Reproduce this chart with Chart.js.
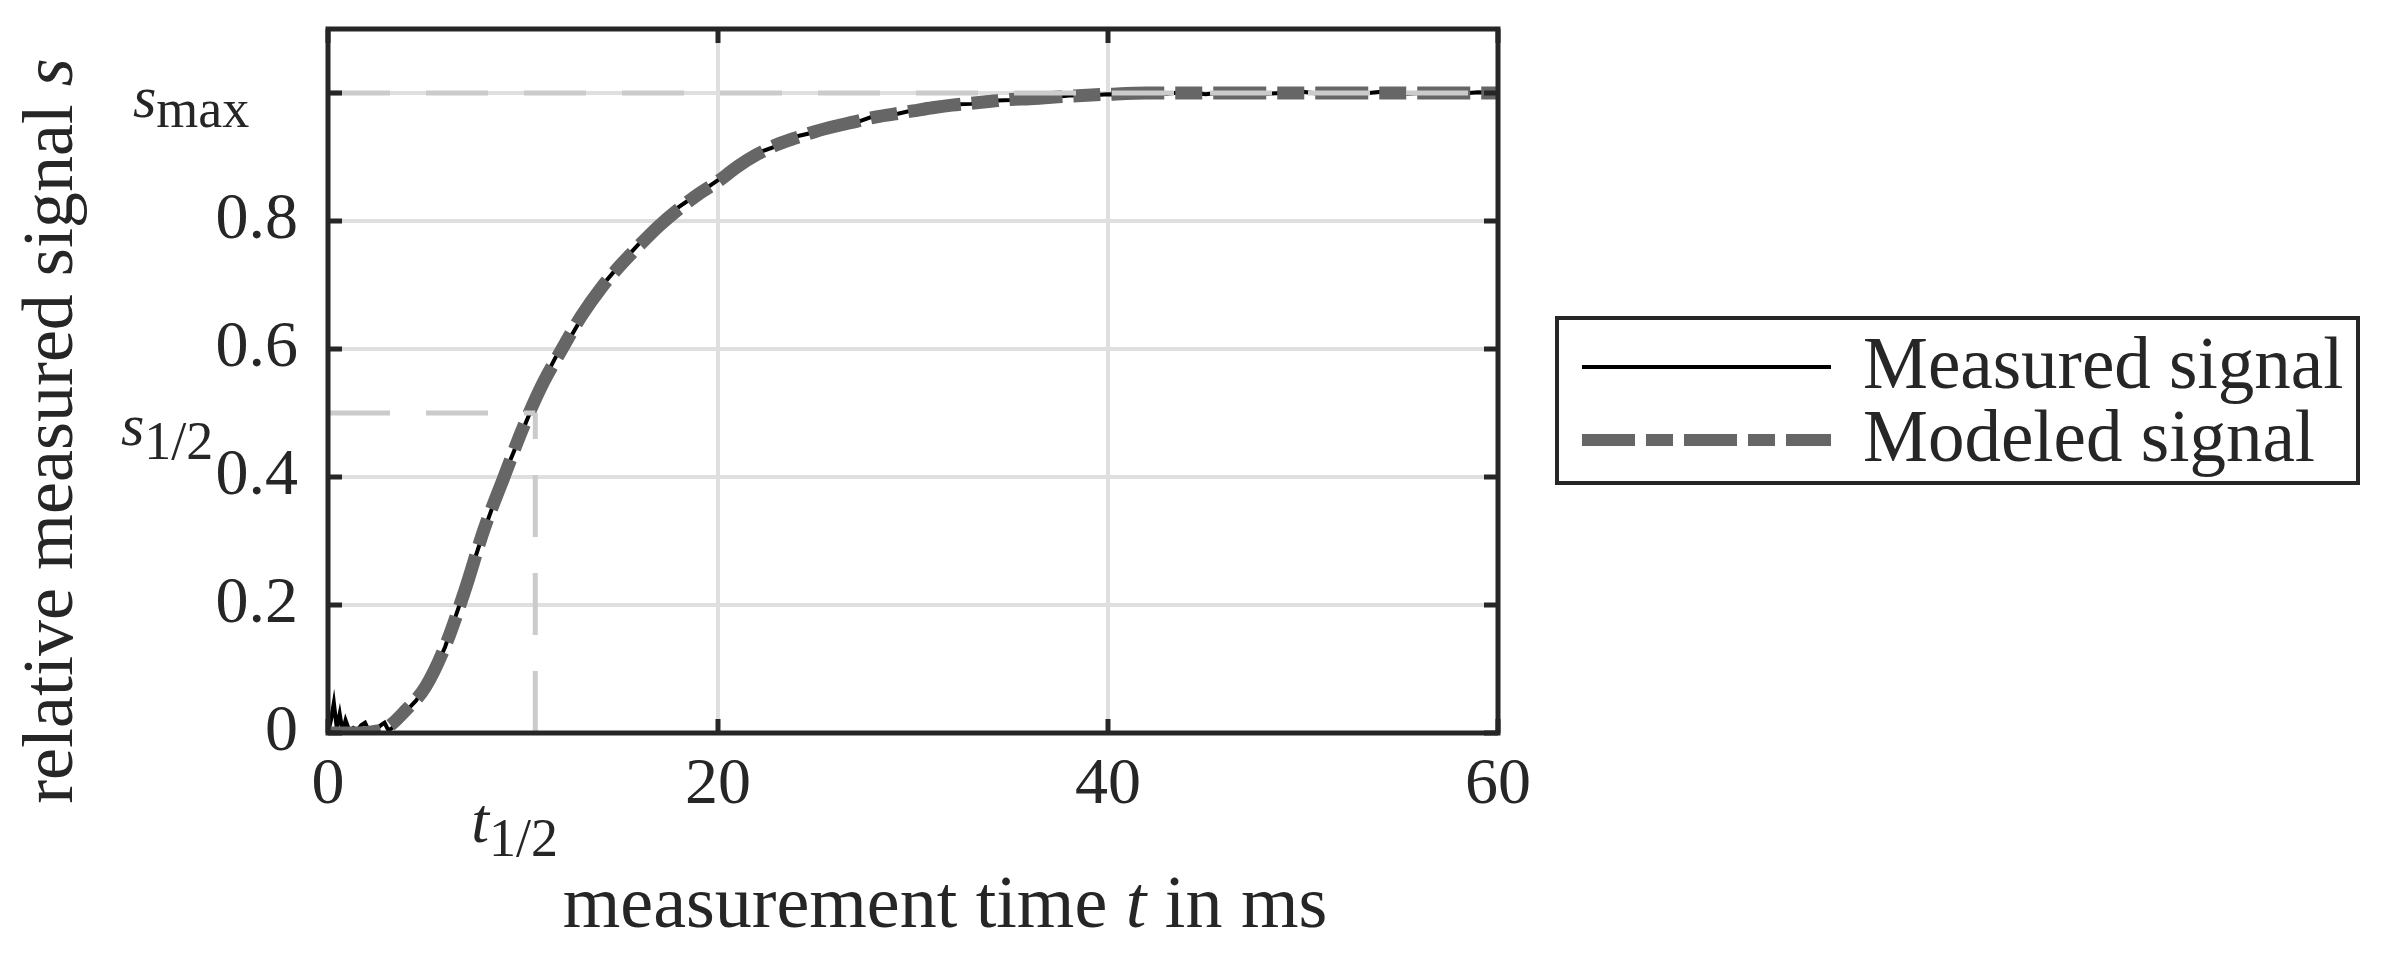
<!DOCTYPE html>
<html>
<head>
<meta charset="utf-8">
<title>relative measured signal</title>
<script src="https://cdn.jsdelivr.net/npm/chart.js@4.4.1/dist/chart.umd.min.js"></script>
<style>
    html, body { margin: 0; padding: 0; background: #fff; }
    #wrap { position: relative; width: 2393px; height: 954px; }
</style>
</head>
<body>
<div id="wrap"><canvas id="myChart"></canvas></div>
<script>
// 读图得到的数据 (时间 ms, 相对信号)
const modelTime   = [0, 1, 2, 3, 4, 5, 6, 7, 8, 9, 10, 11, 12, 13, 14, 15, 16, 17, 18, 19, 20,
                     21, 22, 23, 24, 25, 26, 27, 28, 29, 30, 31, 32, 33, 34, 35, 36, 38, 40, 42, 45, 50, 55, 60];
const modelSignal = [0, 0, 0.001, 0.008, 0.036, 0.072, 0.135, 0.221, 0.318, 0.398, 0.477, 0.545, 0.600, 0.652, 0.695,
                     0.731, 0.763, 0.793, 0.819, 0.842, 0.862, 0.885, 0.904, 0.919, 0.930, 0.940, 0.948, 0.955, 0.962,
                     0.967, 0.972, 0.977, 0.981, 0.984, 0.987, 0.990, 0.991, 0.995, 0.998, 1.0, 1.0, 1.0, 1.0, 1.0];

const measuredTime   = [0, 0.15, 0.3, 0.45, 0.6, 0.75, 0.9, 1.1, 1.3, 1.5, 1.7, 1.9, 2.1, 2.3, 2.5, 2.7, 2.9, 3.1, 3.3,
                        3.6, 4, 4.5, 5, 5.5, 6, 7, 8, 9, 10, 11, 12, 12.5, 13, 14, 15, 16, 17, 18, 19, 20,
                        21, 22, 23, 24, 25, 26, 27, 28, 29, 30, 31, 32, 33, 34, 35, 36, 37, 38, 39, 40,
                        41, 42, 43, 44, 45, 46, 47, 48, 49, 50, 51, 52, 53, 54, 55, 56, 57, 58, 59, 60];
const measuredSignal = [0, 0.02, 0.047, 0.008, 0.03, 0.002, 0.02, 0.003, 0.008, 0.004, 0.012, 0.016, 0.003, 0.002,
                        0.006, 0.012, 0.016, 0.004, 0.008, 0.02, 0.034, 0.05, 0.073, 0.1, 0.134, 0.223, 0.316, 0.401,
                        0.474, 0.548, 0.606, 0.622, 0.648, 0.697, 0.733, 0.766, 0.792, 0.822, 0.843, 0.864,
                        0.884, 0.906, 0.917, 0.932, 0.939, 0.950, 0.953, 0.964, 0.966, 0.973, 0.976, 0.982, 0.983,
                        0.988, 0.989, 0.992, 0.993, 0.996, 0.996, 0.998, 0.997, 1.001, 0.999, 1.002, 0.998, 1.001,
                        1.003, 0.999, 1.0, 1.002, 0.998, 1.001, 0.999, 1.002, 0.998, 1.0, 1.002, 0.999, 1.001, 1.0];

const tHalf = 10.63;   // t_1/2
const sHalf = 0.5;     // s_1/2
const sMax = 1;        // s_max

const xTicks = [0, 20, 40, 60];
const yTicks = [0, 0.2, 0.4, 0.6, 0.8, 1];

const FONT = '"Liberation Serif", "DejaVu Serif", serif';
const TEXT = '#262626';
const GRID = '#dfdfdf';
const REF = '#cbcbcb';

function toPoints(xs, ys) {
    return xs.map((x, i) => ({ x: x, y: ys[i] }));
}

// 按片段绘制混合字体文本
function drawRuns(ctx, runs, x, y, align) {
    let total = 0;
    runs.forEach(r => { ctx.font = r.font; total += ctx.measureText(r.text).width; });
    let cx = align === 'center' ? x - total / 2 : x;
    runs.forEach(r => {
        ctx.font = r.font;
        ctx.fillText(r.text, cx, y + (r.dy || 0));
        cx += ctx.measureText(r.text).width;
    });
}

const decorPlugin = {
    id: 'decor',
    afterDraw(chart) {
        const ctx = chart.ctx;
        const area = chart.chartArea;
        const xs = chart.scales.x;
        const ys = chart.scales.y;
        ctx.save();

        // 坐标框和内向刻度
        ctx.strokeStyle = TEXT;
        ctx.lineWidth = 5;
        ctx.strokeRect(area.left, area.top, area.right - area.left, area.bottom - area.top);
        ctx.beginPath();
        xs.ticks.forEach(t => {
            const px = xs.getPixelForValue(t.value);
            ctx.moveTo(px, area.bottom); ctx.lineTo(px, area.bottom - 14);
            ctx.moveTo(px, area.top); ctx.lineTo(px, area.top + 14);
        });
        ys.ticks.forEach(t => {
            const py = ys.getPixelForValue(t.value);
            ctx.moveTo(area.left, py); ctx.lineTo(area.left + 14, py);
            ctx.moveTo(area.right, py); ctx.lineTo(area.right - 14, py);
        });
        ctx.stroke();

        ctx.fillStyle = TEXT;
        ctx.textBaseline = 'alphabetic';
        ctx.textAlign = 'left';

        // s_max, s_1/2, t_1/2
        const yMax = ys.getPixelForValue(sMax);
        drawRuns(ctx, [
            { text: 's', font: 'italic 60px ' + FONT },
            { text: 'max', font: '54px ' + FONT, dy: 10 }
        ], 133, yMax + 24, 'left');
        const yHalf = ys.getPixelForValue(sHalf);
        drawRuns(ctx, [
            { text: 's', font: 'italic 60px ' + FONT },
            { text: '1/2', font: '54px ' + FONT, dy: 14 }
        ], 121, yHalf + 32, 'left');
        const xHalf = xs.getPixelForValue(tHalf);
        drawRuns(ctx, [
            { text: 't', font: 'italic 64px ' + FONT },
            { text: '1/2', font: '54px ' + FONT, dy: 14 }
        ], xHalf - 64, area.bottom + 109, 'left');

        // 坐标轴标题
        drawRuns(ctx, [
            { text: 'measurement time ', font: '74px ' + FONT },
            { text: 't', font: 'italic 74px ' + FONT },
            { text: ' in ms', font: '74px ' + FONT }
        ], 945, 927, 'center');
        ctx.save();
        ctx.translate(72, 431);
        ctx.rotate(-Math.PI / 2);
        drawRuns(ctx, [
            { text: 'relative measured signal ', font: '72px ' + FONT },
            { text: 's', font: 'italic 72px ' + FONT }
        ], 0, 0, 'center');
        ctx.restore();

        // 图例
        const box = { left: 1557, top: 318, right: 2358, bottom: 483 };
        ctx.fillStyle = '#fff';
        ctx.fillRect(box.left, box.top, box.right - box.left, box.bottom - box.top);
        ctx.strokeStyle = TEXT;
        ctx.lineWidth = 4;
        ctx.strokeRect(box.left, box.top, box.right - box.left, box.bottom - box.top);
        const items = chart.data.datasets.filter(d => d.inLegend);
        items.sort((a, b) => a.legendRank - b.legendRank);
        items.forEach((d, i) => {
            const cy = 367 + i * 73;
            ctx.save();
            ctx.strokeStyle = d.borderColor;
            ctx.lineWidth = d.legendWidth || d.borderWidth;
            ctx.setLineDash(d.borderDash || []);
            ctx.beginPath();
            ctx.moveTo(1582, cy);
            ctx.lineTo(1831, cy);
            ctx.stroke();
            ctx.restore();
            ctx.fillStyle = TEXT;
            ctx.font = '73px ' + FONT;
            ctx.fillText(d.label, 1863, cy + 21);
        });

        ctx.restore();
    }
};

const ctx = document.getElementById('myChart').getContext('2d');
const chart = new Chart(ctx, {
    type: 'line',
    data: {
        datasets: [
            {
                label: 'smax line',
                data: [{ x: 0, y: sMax }, { x: 60, y: sMax }],
                borderColor: REF, borderWidth: 5, borderDash: [62, 36],
                pointRadius: 0, order: 0
            },
            {
                label: 'shalf line',
                data: [{ x: 0, y: sHalf }, { x: tHalf, y: sHalf }],
                borderColor: REF, borderWidth: 5, borderDash: [62, 36],
                pointRadius: 0, order: 0
            },
            {
                label: 'thalf line',
                data: [{ x: tHalf, y: 0 }, { x: tHalf, y: sHalf }],
                borderColor: REF, borderWidth: 5, borderDash: [62, 36],
                pointRadius: 0, order: 0
            },
            {
                label: 'Modeled signal',
                data: toPoints(modelTime, modelSignal),
                borderColor: '#666666', borderWidth: 13, borderDash: [53, 11, 27, 11],
                cubicInterpolationMode: 'monotone', pointRadius: 0, order: 1,
                inLegend: true, legendRank: 1, legendWidth: 12
            },
            {
                label: 'Measured signal',
                data: toPoints(measuredTime, measuredSignal),
                borderColor: '#000000', borderWidth: 4, tension: 0,
                pointRadius: 0, order: 2,
                inLegend: true, legendRank: 0, legendWidth: 4
            }
        ]
    },
    options: {
        responsive: true,
        maintainAspectRatio: false,
        animation: false,
        devicePixelRatio: 1,
        layout: { padding: { left: 0, top: 29, right: 895, bottom: 0 } },
        plugins: {
            legend: { display: false },
            tooltip: { enabled: false }
        },
        scales: {
            x: {
                type: 'linear', min: 0, max: 60,
                afterBuildTicks: s => { s.ticks = xTicks.map(v => ({ value: v })); },
                afterFit: s => { s.height = 221; s.paddingLeft = 0; s.paddingRight = 0; },
                border: { display: false },
                grid: {
                    drawTicks: false, lineWidth: 4,
                    color: c => (c.tick && (c.tick.value === 0 || c.tick.value === 60)) ? 'rgba(0,0,0,0)' : GRID
                },
                ticks: {
                    font: { family: FONT, size: 66, lineHeight: 1 }, color: TEXT,
                    padding: 20, maxRotation: 0, autoSkip: false,
                    callback: v => String(v)
                }
            },
            y: {
                type: 'linear', min: 0, max: 1.1,
                afterBuildTicks: s => { s.ticks = yTicks.map(v => ({ value: v })); },
                afterFit: s => { s.width = 328; s.paddingTop = 0; s.paddingBottom = 0; },
                border: { display: false },
                grid: {
                    drawTicks: false, lineWidth: 4,
                    color: c => (c.tick && c.tick.value === 0) ? 'rgba(0,0,0,0)' : GRID
                },
                ticks: {
                    font: { family: FONT, size: 66, lineHeight: 1 }, color: TEXT,
                    padding: 30, autoSkip: false,
                    callback: v => (v === sMax ? '' : String(v))
                }
            }
        }
    },
    plugins: [decorPlugin]
});
</script>
</body>
</html>
